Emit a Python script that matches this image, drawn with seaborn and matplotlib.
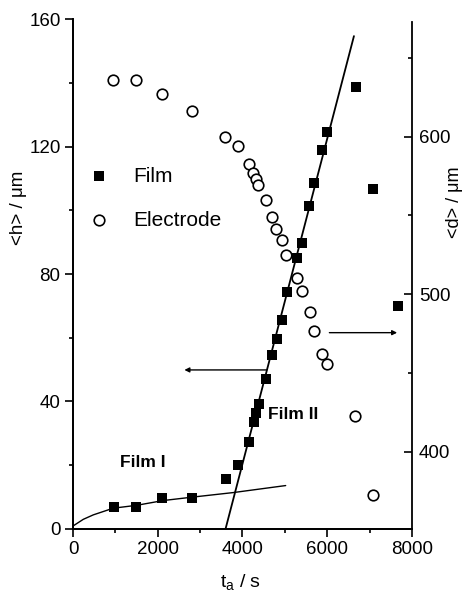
import matplotlib
matplotlib.use("Agg")
import matplotlib.pyplot as plt
from matplotlib.ticker import MultipleLocator
import seaborn as sns

# ── Data ─────────────────────────────────────────────────────
film_t = [967, 1494, 2108, 2816, 3611, 3894, 4153, 4263, 4310, 4381,
          4562, 4688, 4806, 4924, 5042, 5278, 5410, 5576, 5679, 5868,
          5994, 6670, 7086, 7676]
film_h = [7.0, 7.0, 9.6, 9.6, 15.6, 20.0, 27.4, 33.4, 36.5, 39.2,
          47.1, 54.6, 59.5, 65.6, 74.3, 84.9, 89.6, 101.4, 108.6, 119.0,
          124.5, 138.6, 106.7, 70.0]

elec_t = [951, 1487, 2093, 2808, 3587, 3886, 4146, 4255, 4310, 4365,
          4554, 4688, 4798, 4924, 5034, 5278, 5396, 5592, 5695, 5883,
          5994, 6654, 7071]
elec_d = [636.1, 636.0, 626.8, 616.3, 599.6, 594.0, 582.5, 577.0, 572.8, 569.2,
          559.9, 549.0, 541.6, 534.1, 524.6, 510.2, 502.3, 488.5, 476.8, 461.8,
          455.6, 422.7, 372.8]

# fitted curves
film1_t = [0, 243, 479, 951, 1503, 2131, 2839, 3783, 5019]
film1_h = [0.9, 3.0, 4.4, 6.5, 7.4, 8.9, 10.0, 11.4, 13.6]
film2_t = [3600, 6630]
film2_h = [0.0, 154.7]

# ── Style ───────────────────────────────────────────────────
sns.set_style("ticks")
plt.rcParams.update({
    "font.family": ["Liberation Sans", "DejaVu Sans"],
    "mathtext.fontset": "custom",
    "mathtext.rm": "Liberation Sans",
    "mathtext.it": "Liberation Sans",
    "axes.linewidth": 1.3,
    "axes.edgecolor": "black",
    "axes.labelcolor": "black",
    "text.color": "black",
    "xtick.color": "black",
    "ytick.color": "black",
})

fig = plt.figure(figsize=(4.65, 6.01), dpi=100)
ax = fig.add_axes([0.157, 0.12, 0.729, 0.848])
ax2 = ax.twinx()

sns.lineplot(x=film1_t, y=film1_h, color="black", lw=1.0, sort=False,
             estimator=None, ax=ax)
sns.lineplot(x=film2_t, y=film2_h, color="black", lw=1.3, sort=False,
             estimator=None, ax=ax)
sns.scatterplot(x=film_t, y=film_h, marker="s", color="black", s=52,
                linewidth=0, label="Film", ax=ax, zorder=3)
sns.scatterplot(x=elec_t, y=elec_d, marker="o", facecolor="white",
                edgecolor="black", linewidth=1.2, s=58, label="Electrode",
                ax=ax2, zorder=3)

ax.set_xlim(0, 8000)
ax.set_ylim(0, 160)
ax2.set_ylim(351, 674.5)

ax.xaxis.set_major_locator(MultipleLocator(2000))
ax.xaxis.set_minor_locator(MultipleLocator(1000))
ax.yaxis.set_major_locator(MultipleLocator(40))
ax.yaxis.set_minor_locator(MultipleLocator(20))
ax2.yaxis.set_major_locator(MultipleLocator(100))
ax2.yaxis.set_minor_locator(MultipleLocator(50))

for a in (ax, ax2):
    a.spines["top"].set_visible(False)
    a.tick_params(which="major", length=6, width=1.2, labelsize=13.5)
    a.tick_params(which="minor", length=3, width=1.2)
ax.tick_params(axis="both", which="both", direction="out", pad=3)
ax2.tick_params(axis="y", which="both", direction="in", pad=5)
ax2.spines["right"].set_bounds(351, 672.5)
ax.spines["right"].set_visible(False)

ax.set_xlabel("t$_a$ / s", fontsize=14)
ax.set_ylabel("<h> / μm", fontsize=13.5)
ax2.set_ylabel("<d> / μm", fontsize=13, rotation=90)
ax.xaxis.set_label_coords(0.493, -0.085)
ax.yaxis.set_label_coords(-0.136, 0.63)
ax2.yaxis.set_label_coords(1.1, 0.64)

# annotations
ax.annotate("", xy=(2563, 49.9), xytext=(4641, 49.9),
            arrowprops=dict(arrowstyle="-|>", color="black", lw=1.0,
                            mutation_scale=7))
ax.annotate("", xy=(7715, 61.6), xytext=(5985, 61.6),
            arrowprops=dict(arrowstyle="-|>", color="black", lw=1.0,
                            mutation_scale=7))
ax.text(1109, 20.7, "Film I", fontsize=12.5, fontweight="bold",
        va="center", ha="left")
ax.text(4602, 35.8, "Film II", fontsize=12.5, fontweight="bold",
        va="center", ha="left")

# legend
h1, l1 = ax.get_legend_handles_labels()
h2, l2 = ax2.get_legend_handles_labels()
ax.get_legend().remove()
ax2.legend(h1 + h2, l1 + l2, loc="center left", bbox_to_anchor=(0.055, 0.649),
           frameon=False, fontsize=15, handlelength=0.7, handletextpad=1.3,
           labelspacing=1.2, borderpad=0, borderaxespad=0)

fig.savefig("out.png", dpi=100)
